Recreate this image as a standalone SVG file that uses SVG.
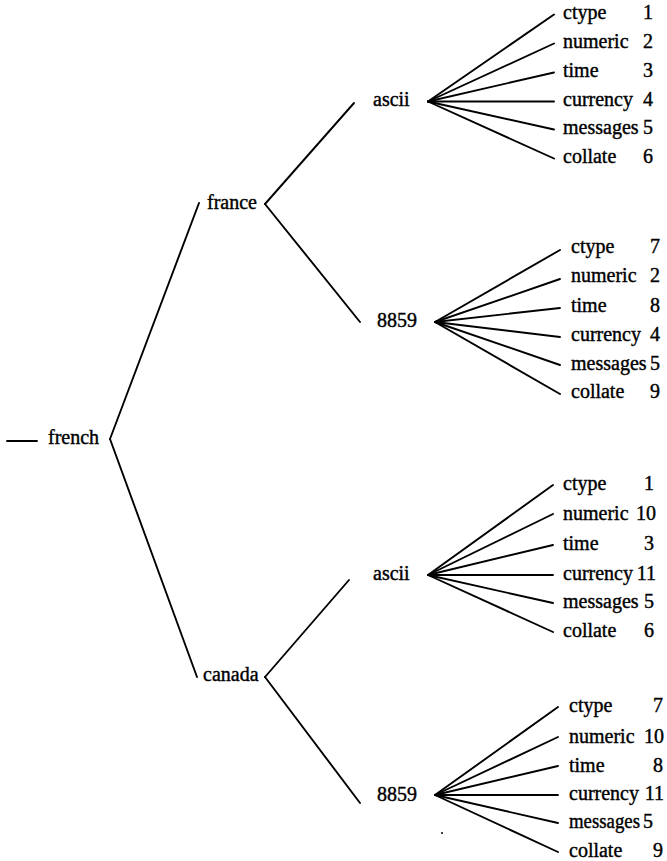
<svg xmlns="http://www.w3.org/2000/svg" width="667" height="861" viewBox="0 0 667 861">
<style>
.t{font-family:"Liberation Serif","Times New Roman",serif;font-size:20px;fill:#000;stroke:#000;stroke-width:0.4}
.n{text-anchor:end}
.c line{stroke:#000;stroke-width:1.9;stroke-linecap:round}
</style>
<rect width="667" height="861" fill="#fff"/>
<g class="c" id="connectors">
<line x1="7" y1="441" x2="37" y2="441"/>
<line x1="110" y1="439" x2="199" y2="203"/>
<line x1="110" y1="439" x2="197" y2="677"/>
<line x1="265" y1="204" x2="354" y2="103"/>
<line x1="265" y1="204" x2="360" y2="322"/>
<line x1="265" y1="677" x2="349" y2="580"/>
<line x1="265" y1="677" x2="360" y2="803"/>
<line x1="428" y1="101.5" x2="554" y2="14.5"/>
<line x1="428" y1="101.5" x2="554" y2="43.5"/>
<line x1="428" y1="101.5" x2="554" y2="72.5"/>
<line x1="428" y1="101.5" x2="554" y2="101.5"/>
<line x1="428" y1="101.5" x2="554" y2="129.5"/>
<line x1="428" y1="101.5" x2="554" y2="158.5"/>
<line x1="435" y1="322" x2="560" y2="250"/>
<line x1="435" y1="322" x2="560" y2="279"/>
<line x1="435" y1="322" x2="560" y2="308"/>
<line x1="435" y1="322" x2="560" y2="337"/>
<line x1="435" y1="322" x2="560" y2="365"/>
<line x1="435" y1="322" x2="560" y2="394"/>
<line x1="428" y1="575" x2="553" y2="485"/>
<line x1="428" y1="575" x2="553" y2="514"/>
<line x1="428" y1="575" x2="553" y2="545"/>
<line x1="428" y1="575" x2="553" y2="575"/>
<line x1="428" y1="575" x2="553" y2="603"/>
<line x1="428" y1="575" x2="553" y2="632"/>
<line x1="435" y1="795" x2="558" y2="707"/>
<line x1="435" y1="795" x2="558" y2="737"/>
<line x1="435" y1="795" x2="558" y2="766"/>
<line x1="435" y1="795" x2="558" y2="795"/>
<line x1="435" y1="795" x2="558" y2="823"/>
<line x1="435" y1="795" x2="558" y2="852"/>
</g>
<g id="french"><text class="t" x="48" y="444">french</text></g>
<g id="france"><text class="t" x="207" y="209">france</text></g>
<g id="canada"><text class="t" x="203" y="681">canada</text></g>
<g id="france-ascii"><text class="t" x="373" y="106">ascii</text></g>
<g id="france-8859"><text class="t" x="377" y="327">8859</text></g>
<g id="canada-ascii"><text class="t" x="373" y="580">ascii</text></g>
<g id="canada-8859"><text class="t" x="377" y="801">8859</text></g>
<g id="leaves-france-ascii">
<text class="t" x="563" y="19">ctype</text><text class="t n" x="653" y="19">1</text>
<text class="t" x="563" y="48">numeric</text><text class="t n" x="653" y="48">2</text>
<text class="t" x="563" y="77">time</text><text class="t n" x="653" y="77">3</text>
<text class="t" x="563" y="106">currency</text><text class="t n" x="653" y="106">4</text>
<text class="t" x="563" y="134">messages</text><text class="t n" x="653" y="134">5</text>
<text class="t" x="563" y="163">collate</text><text class="t n" x="653" y="163">6</text>
</g>
<g id="leaves-france-8859">
<text class="t" x="571" y="253">ctype</text><text class="t n" x="660" y="253">7</text>
<text class="t" x="571" y="282">numeric</text><text class="t n" x="660" y="282">2</text>
<text class="t" x="571" y="311.5">time</text><text class="t n" x="660" y="311.5">8</text>
<text class="t" x="571" y="341">currency</text><text class="t n" x="660" y="341">4</text>
<text class="t" x="571" y="370">messages</text><text class="t n" x="660" y="370">5</text>
<text class="t" x="571" y="398">collate</text><text class="t n" x="660" y="398">9</text>
</g>
<g id="leaves-canada-ascii">
<text class="t" x="563" y="490">ctype</text><text class="t n" x="654" y="490">1</text>
<text class="t" x="563" y="520">numeric</text><text class="t n" x="656" y="520">10</text>
<text class="t" x="563" y="550">time</text><text class="t n" x="654" y="550">3</text>
<text class="t" x="563" y="580">currency</text><text class="t n" x="656" y="580">11</text>
<text class="t" x="563" y="608">messages</text><text class="t n" x="654" y="608">5</text>
<text class="t" x="563" y="637">collate</text><text class="t n" x="654" y="637">6</text>
</g>
<g id="leaves-canada-8859">
<text class="t" x="569" y="712">ctype</text><text class="t n" x="663" y="712">7</text>
<text class="t" x="569" y="743">numeric</text><text class="t n" x="664" y="743">10</text>
<text class="t" x="569" y="771.5">time</text><text class="t n" x="663" y="771.5">8</text>
<text class="t" x="569" y="800">currency</text><text class="t n" x="664" y="800">11</text>
<text class="t" x="569" y="828" textLength="71" lengthAdjust="spacingAndGlyphs">messages</text><text class="t" x="643" y="828">5</text>
<text class="t" x="569" y="857">collate</text><text class="t n" x="663" y="857">9</text>
</g>
<circle cx="442" cy="833" r="1" fill="#000"/>
</svg>
